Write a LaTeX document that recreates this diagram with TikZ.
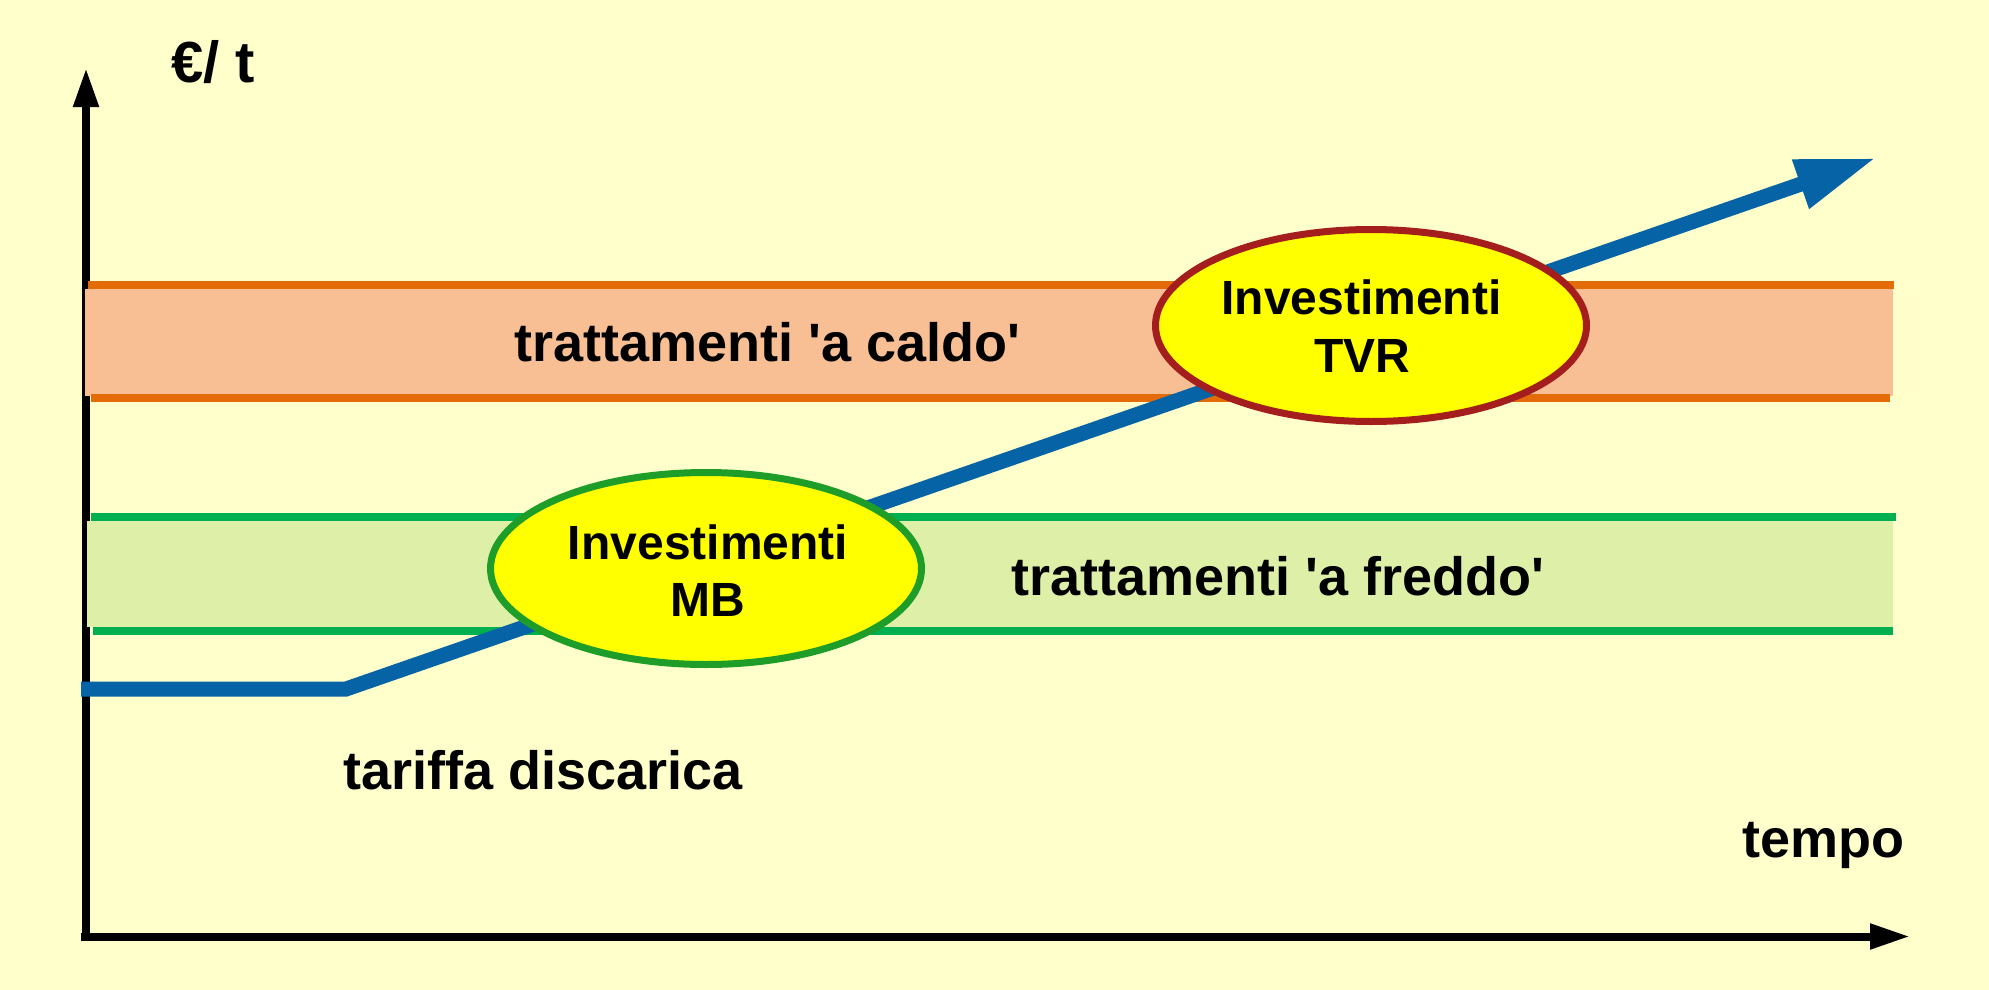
\documentclass[tikz,border=0pt]{standalone}
\usepackage{fontspec}
\setmainfont{Liberation Sans}
\usetikzlibrary{arrows.meta,shapes.geometric}
\definecolor{bg}{RGB}{255,255,204}
\definecolor{hotfill}{RGB}{248,190,148}
\definecolor{hotline}{RGB}{227,108,9}
\definecolor{coldfill}{RGB}{222,240,168}
\definecolor{coldline}{RGB}{0,176,80}
\definecolor{tarblue}{RGB}{5,99,166}
\definecolor{mbgreen}{RGB}{30,158,40}
\definecolor{tvrred}{RGB}{165,30,30}
\definecolor{txt}{RGB}{0,0,0}
\definecolor{ellfill}{RGB}{255,255,0}
\begin{document}
\begin{tikzpicture}[x=1pt,y=-1pt,
  lbl/.style={anchor=base, inner sep=0pt, text=txt, font=\fontsize{54}{60}\selectfont\bfseries},
  elltxt/.style={anchor=base, inner sep=0pt, text=txt, font=\fontsize{48}{56}\selectfont\bfseries},
  axisline/.style={line width=8pt, draw=black},
  bandline/.style={line width=8pt},
  invest/.style={ellipse, draw, line width=7pt, fill=ellfill, minimum width=431pt, minimum height=192pt, inner sep=0pt},
]
\useasboundingbox (0,0) rectangle (1989,990);
\fill[bg] (0,0) rectangle (1989,990);

% axes
\coordinate (ybot) at (86,940.5);
\coordinate (ytip) at (86,68);
\coordinate (xstart) at (81,936.5);
\coordinate (xtip) at (1910,936.5);
\draw[axisline, -{Triangle[length=39pt,width=24pt]}] (ybot) -- (ytip);
\draw[axisline, -{Triangle[length=40pt,width=24pt]}] (xstart) -- (xtip);

% bands
\fill[hotfill] (85,289) rectangle (1893,396);
\draw[bandline, draw=hotline] (88,285) -- (1894,285);
\draw[bandline, draw=hotline] (91,398) -- (1890,398);
\fill[coldfill] (87,521) rectangle (1893,627);
\draw[bandline, draw=coldline] (91,517) -- (1896,517);
\draw[bandline, draw=coldline] (93,631) -- (1893,631);

% tariff line
\coordinate (t0) at (81,689);
\coordinate (t1) at (346,689);
\coordinate (t2) at (1876,158);
\draw[draw=tarblue, line width=15pt, -{Triangle[length=80pt,width=48pt]}] (t0) -- (t1) -- (t2);

% investments
\node[invest, draw=mbgreen] (mb) at (706,568.5) {};
\node[invest, draw=tvrred] (tvr) at (1371,325.5) {};
\node[elltxt] (mb1) at (708,559) {Investimenti};
\node[elltxt] (mb2) at (708,616) {MB};
\node[elltxt] (tvr1) at (1361.5,314) {Investimenti};
\node[elltxt] (tvr2) at (1362,372) {TVR};

% labels
\node[lbl] (caldo) at (767.5,361.7) {trattamenti \textquotesingle a caldo\textquotesingle};
\node[lbl] (freddo) at (1277.75,595) {trattamenti \textquotesingle a freddo\textquotesingle};
\node[lbl] (tariffa) at (543,789) {tariffa discarica};
\node[lbl] (tempo) at (1823,857) {tempo};
\node[lbl, font=\fontsize{58}{64}\selectfont\bfseries] (unit) at (213,82) {€/ t};
\end{tikzpicture}
\end{document}
